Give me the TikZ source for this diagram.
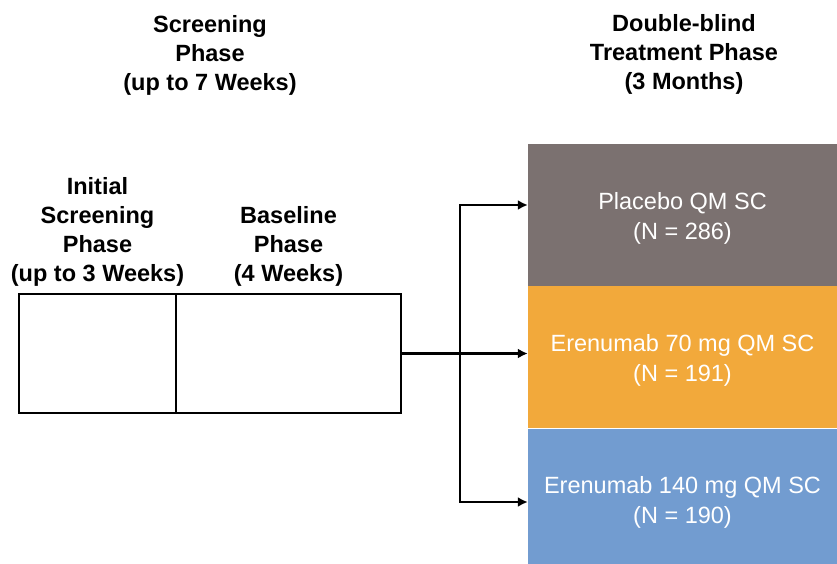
\documentclass[tikz,border=0pt]{standalone}
\usepackage{fontspec}
\setmainfont{Liberation Sans}
\usepackage{tikz}
\usetikzlibrary{arrows.meta,positioning}

\definecolor{placebogray}{HTML}{7B7170}
\definecolor{lowdose}{HTML}{F2A93B}
\definecolor{highdose}{HTML}{729CD0}

\begin{document}
\begin{tikzpicture}[x=1pt,y=-1pt,>={Latex[length=10pt,width=10pt]},
  head/.style={font=\fontsize{23.5}{29}\selectfont\bfseries,align=center},
  arm/.style={fill=#1,minimum width=309pt,minimum height=142pt,inner sep=0pt},
  armtext/.style={text=white,font=\fontsize{23.5}{30}\selectfont,align=center},
  period/.style={draw,line width=2.8pt,minimum height=119pt,inner sep=0pt,outer sep=0pt},
  link/.style={->,line width=2.8pt}]
  \useasboundingbox (0,0) rectangle (837,564);
  \node[head] (scr) at (210,55) {Screening\\Phase\\(up to 7 Weeks)};
  \node[head] (dbl) at (684,54) {Double-blind\\Treatment Phase\\(3 Months)};
  \node[period,minimum width=157pt] (init) at (97.5,353.5) {};
  \node[period,minimum width=225pt,right=0pt of init] (base) {};
  \node[head,above=4pt of init] (initlab) {Initial\\Screening\\Phase\\(up to 3 Weeks)};
  \node[head,above=4pt of base] (baselab) {Baseline\\Phase\\(4 Weeks)};
  \node[arm=placebogray,label={[armtext,yshift=-3pt]center:Placebo QM SC\\(N = 286)}] (pbo) at (682.5,215) {};
  \node[arm=lowdose,below=0pt of pbo,label={[armtext,yshift=-3pt]center:Erenumab 70 mg QM SC\\(N = 191)}] (e70) {};
  \node[arm=highdose,below=0pt of e70,minimum height=136pt,label={[armtext,yshift=-6pt]center:Erenumab 140 mg QM SC\\(N = 190)}] (e140) {};
  % split point and branch ends
  \coordinate (split) at (460,0 |- base.east);
  \coordinate (up) at (460,205);
  \coordinate (down) at (460,502);
  \draw[link] (base.east) -- (base.east -| e70.west);
  \draw[link] (split) -- (up) -- (up -| pbo.west);
  \draw[link] (split) -- (down) -- (down -| e140.west);
\end{tikzpicture}
\end{document}
